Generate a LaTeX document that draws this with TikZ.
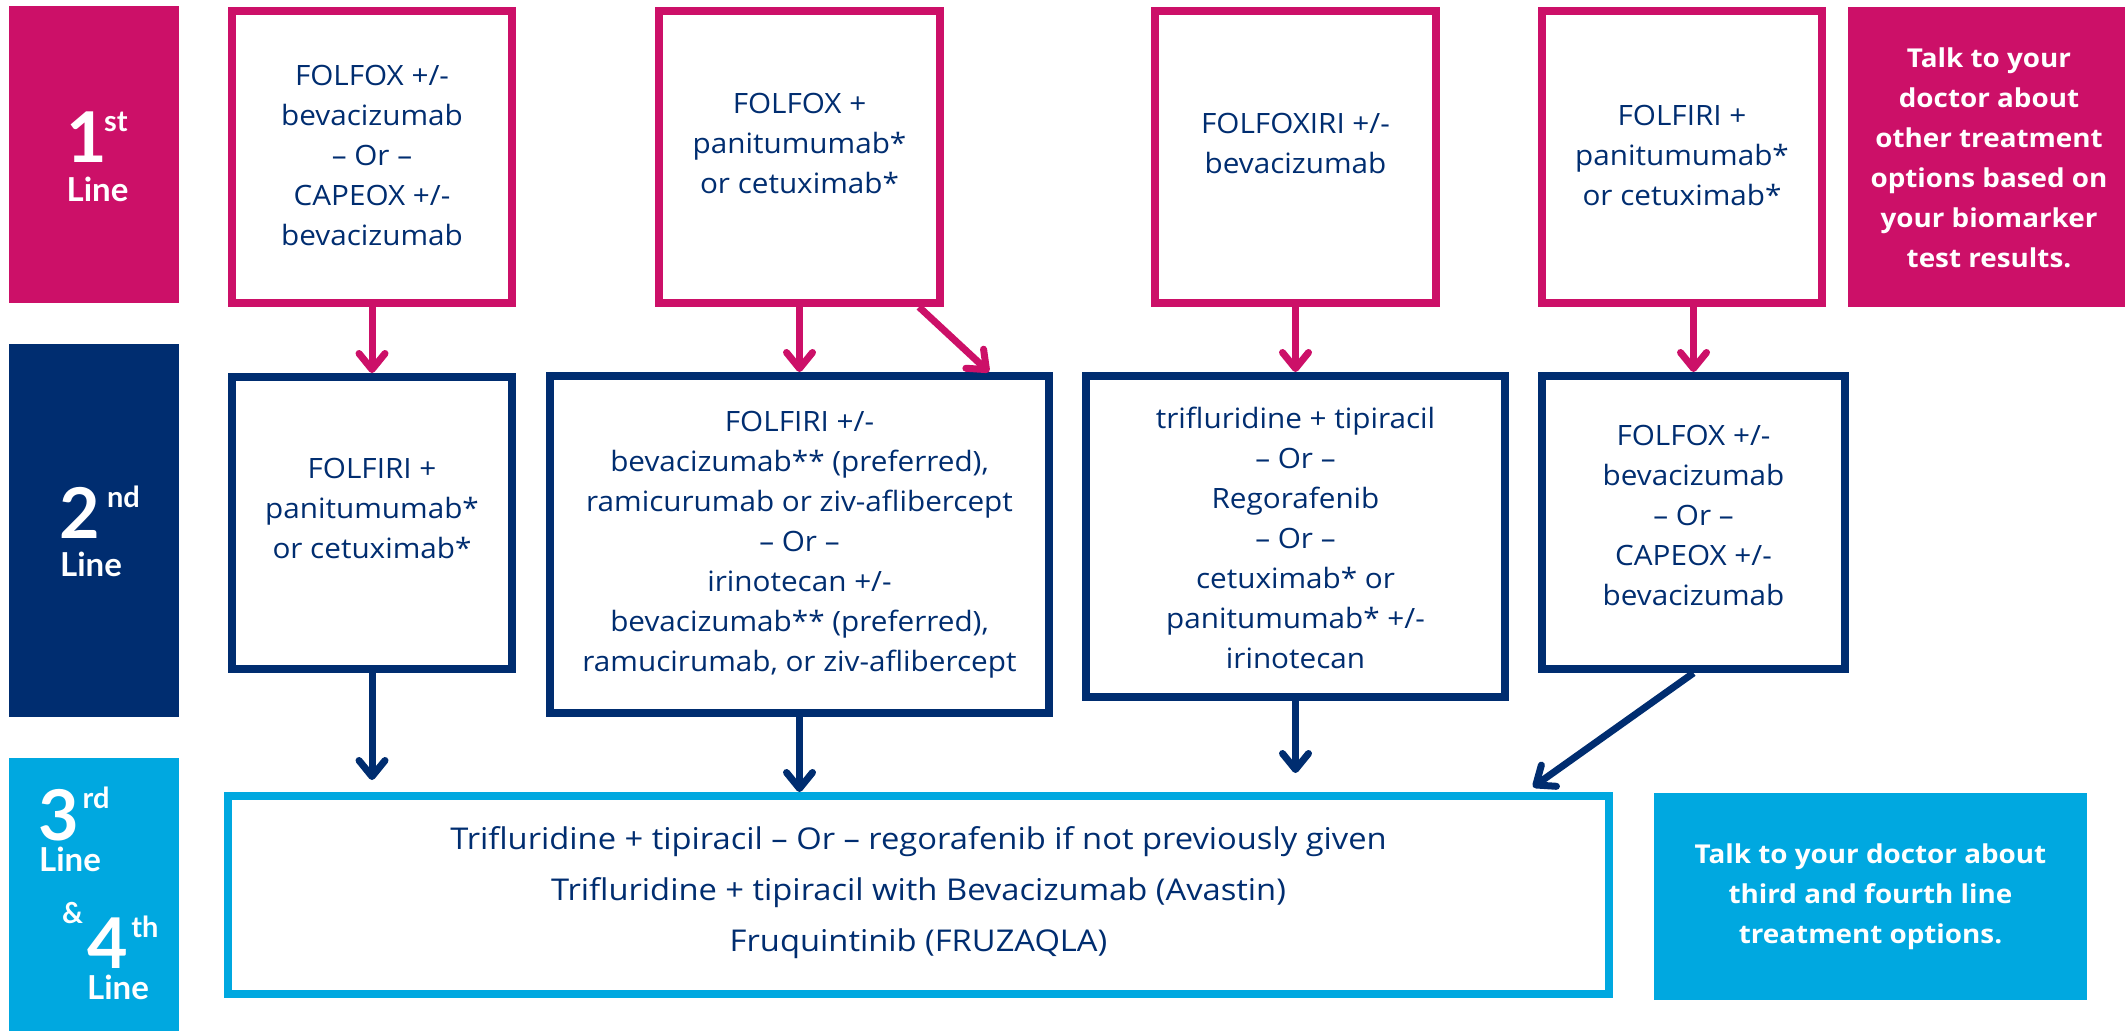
\documentclass[tikz,border=0pt]{standalone}
\usepackage{fontspec}
\setmainfont{Open Sans}[FakeStretch=1.06]
\newfontfamily\bottomfont{Open Sans}[FakeStretch=1.09]
\newfontfamily\talkfont{Open Sans}[FakeStretch=1.07]
\newfontfamily\labfont{Lato}
\usetikzlibrary{arrows.meta}
\definecolor{mag}{RGB}{204,16,104}
\definecolor{navy}{RGB}{0,45,112}
\definecolor{sky}{RGB}{0,168,224}
\begin{document}
\begin{tikzpicture}[x=0.5pt,y=-0.5pt,
  box/.style={draw, line width=4pt, inner sep=0pt, fill=white},
  magbox/.style={box, draw=mag},
  navbox/.style={box, draw=navy},
  skybox/.style={box, draw=sky},
  tag/.style={inner sep=0pt, draw=none},
  body/.style={text=navy, align=center, inner sep=0pt, font=\fontsize{14}{20}\selectfont},
  bodywide/.style={text=navy, align=center, inner sep=0pt, font=\bottomfont\fontsize{15}{25.5}\selectfont},
  talk/.style={text=white, align=center, inner sep=0pt, font=\talkfont\bfseries\fontsize{13}{20}\selectfont},
  big/.style={text=white, inner sep=0pt, anchor=base, font=\labfont\bfseries\fontsize{35}{35}\selectfont},
  sups/.style={text=white, inner sep=0pt, anchor=base, font=\labfont\bfseries\fontsize{14.5}{15}\selectfont},
  linew/.style={text=white, inner sep=0pt, anchor=base, font=\labfont\bfseries\fontsize{16.5}{17}\selectfont},
  arr/.style={line width=3.5pt, -{Straight Barb[round,length=8pt,width=13pt]}},
]
\useasboundingbox (0,0) rectangle (2125,1031);

% left labels
\node[tag, fill=mag, minimum width=85pt, minimum height=148.5pt] (L1) at (94,154.5) {};
\node[tag, fill=navy, minimum width=85pt, minimum height=186.5pt] (L2) at (94,530.5) {};
\node[tag, fill=sky, minimum width=85pt, minimum height=136.5pt] (L3) at (94,894.5) {};

\node[big] (L1n) at (87,163) {1};
\node[sups] (L1s) at (116,132) {st};
\node[linew] (L1l) at (97.5,202) {Line};

\node[big] (L2n) at (79.5,539) {2};
\node[sups] (L2s) at (123.5,508) {nd};
\node[linew] (L2l) at (91,577) {Line};

\node[big] (L3n) at (59,840) {3};
\node[sups] (L3s) at (96,808) {rd};
\node[linew] (L3l) at (70,871) {Line};
\node[sups] (L3a) at (72.5,923) {\&};
\node[big] (L4n) at (108,968) {4};
\node[sups] (L4s) at (145,937) {th};
\node[linew] (L4l) at (118,999) {Line};

% first line
\node[magbox, minimum width=140pt, minimum height=146pt] (b1) at (372,157) {};
\node[magbox, minimum width=140.5pt, minimum height=146pt] (b2) at (799.5,157) {};
\node[magbox, minimum width=140.5pt, minimum height=146pt] (b3) at (1295.5,157) {};
\node[magbox, minimum width=140pt, minimum height=146pt] (b4) at (1682,157) {};
\node[tag, fill=mag, minimum width=138.5pt, minimum height=150pt] (t1) at (1986.5,157) {};

\node[body] (b1t) at (372,155) {FOLFOX +/-\\bevacizumab\\– Or –\\CAPEOX +/-\\bevacizumab};
\node[body] (b2t) at (799.5,143) {FOLFOX +\\panitumumab*\\or cetuximab*};
\node[body] (b3t) at (1295.5,143) {FOLFOXIRI +/-\\bevacizumab};
\node[body] (b4t) at (1682,155) {FOLFIRI +\\panitumumab*\\or cetuximab*};
\node[talk] (t1t) at (1989,158) {Talk to your\\doctor about\\other treatment\\options based on\\your biomarker\\test results.};

% second line
\node[navbox, minimum width=140pt, minimum height=146pt] (b2a) at (372,523) {};
\node[navbox, minimum width=249.5pt, minimum height=168.5pt] (b2b) at (799.5,544.5) {};
\node[navbox, minimum width=209.5pt, minimum height=160.5pt] (b2c) at (1295.5,536.5) {};
\node[navbox, minimum width=151.5pt, minimum height=146.5pt] (b2d) at (1693.5,522.5) {};

\node[body] (b2at) at (372,508) {FOLFIRI +\\panitumumab*\\or cetuximab*};
\node[body] (b2bt) at (799.5,545) {FOLFIRI +/-\\bevacizumab** (preferred),\\ramicurumab or ziv-aflibercept\\– Or –\\irinotecan +/-\\bevacizumab** (preferred),\\ramucirumab, or ziv-aflibercept};
\node[body] (b2ct) at (1295.5,538) {trifluridine + tipiracil\\– Or –\\Regorafenib\\– Or –\\cetuximab* or\\panitumumab* +/-\\irinotecan};
\node[body] (b2dt) at (1693.5,515) {FOLFOX +/-\\bevacizumab\\– Or –\\CAPEOX +/-\\bevacizumab};

% third and fourth line
\node[skybox, minimum width=690.5pt, minimum height=99pt] (bb) at (918.5,895) {};
\node[bodywide] (bbt) at (918.5,893) {Trifluridine + tipiracil – Or – regorafenib if not previously given\\Trifluridine + tipiracil with Bevacizumab (Avastin)\\Fruquintinib (FRUZAQLA)};
\node[tag, fill=sky, minimum width=216.5pt, minimum height=103.5pt] (t2) at (1870.5,896.5) {};
\node[talk] (t2t) at (1870.5,897) {Talk to your doctor about\\third and fourth line\\treatment options.};

% arrows first -> second
\draw[arr, mag] (b1.south) -- (b2a.north);
\draw[arr, mag] (b2.south) -- (b2b.north);
\draw[arr, mag] ([xshift=-12.5pt]b2.south east) -- ([xshift=-32pt]b2b.north east);
\draw[arr, mag] (b3.south) -- (b2c.north);
\draw[arr, mag] (b2d.north |- b4.south) -- (b2d.north);

% arrows second -> third
\draw[arr, navy, shorten >=6pt] (b2a.south) -- (b2a.south |- bb.north);
\draw[arr, navy] (b2b.south) -- (b2b.south |- bb.north);
\draw[arr, navy, shorten >=9.5pt] (b2c.south) -- (b2c.south |- bb.north);
\draw[arr, navy] (b2d.south) -- ([xshift=-40pt,yshift=2.5pt]bb.north east);
\end{tikzpicture}
\end{document}
